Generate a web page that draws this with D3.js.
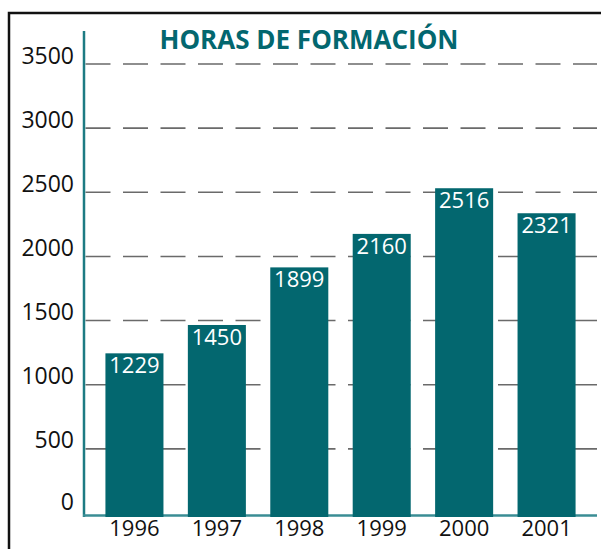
<!DOCTYPE html>
<html>
<head>
<meta charset="utf-8">
<script src="https://cdn.jsdelivr.net/npm/d3@7"></script>
<style>
  body { margin: 0; background: #fff; }
  svg { display: block; }
  text { font-family: "Open Sans", "Noto Sans", sans-serif; }
</style>
</head>
<body>
<svg id="chart" width="601" height="549"></svg>
<script>
// données du graphique
var years = ["1996", "1997", "1998", "1999", "2000", "2001"];
var hours = [1229, 1450, 1899, 2160, 2516, 2321];
var yTicks = [0, 500, 1000, 1500, 2000, 2500, 3000, 3500];
var title = "HORAS DE FORMACIÓN";

var svg = d3.select("#chart");
var teal = "#03676f";

// échelles
var xScale = d3.scaleBand().domain(years).range([84, 597]).paddingInner(0.296).paddingOuter(0.26);
var yScale = d3.scaleLinear().domain([0, 3500]).range([513, 64]);

// cadre noir (haut et gauche)
svg.append("path")
    .attr("d", "M9,549 V13 H601")
    .attr("fill", "none")
    .attr("stroke", "#111")
    .attr("stroke-width", 2.5);

// lignes de grille en pointillés
svg.append("g").selectAll("line")
    .data(yTicks.filter(d => d > 0))
    .enter()
    .append("line")
    .attr("x1", 85.5)
    .attr("x2", 597)
    .attr("y1", d => yScale(d))
    .attr("y2", d => yScale(d))
    .attr("stroke", "#6a6a6a")
    .attr("stroke-width", 1.6)
    .attr("stroke-dasharray", "25,12.5");

// axe des ordonnées : étiquettes seulement, via d3.axisLeft
var yAxis = svg.append("g")
    .attr("transform", "translate(74,0)")
    .call(d3.axisLeft(yScale).tickValues(yTicks).tickFormat(d3.format("d")).tickSize(0).tickPadding(0));
yAxis.select(".domain").remove();
yAxis.selectAll("text")
    .attr("dy", d => d === 0 ? "-0.1em" : "0")
    .attr("y", -1)
    .style("font-size", "23px")
    .style("font-family", "'Open Sans', sans-serif")
    .attr("fill", "#111");

// ligne verticale de l'axe
svg.append("line")
    .attr("x1", 84).attr("x2", 84)
    .attr("y1", 31).attr("y2", 517)
    .attr("stroke", "#1d7b83")
    .attr("stroke-width", 2.5);

// ligne de base
svg.append("line")
    .attr("x1", 83).attr("x2", 597)
    .attr("y1", 515.5).attr("y2", 515.5)
    .attr("stroke", "#3a8d94")
    .attr("stroke-width", 2.5);

// barres
svg.append("g").selectAll("rect")
    .data(hours)
    .enter()
    .append("rect")
    .attr("x", (d, i) => xScale(years[i]))
    .attr("width", xScale.bandwidth())
    .attr("y", d => yScale(d) - 2)
    .attr("height", d => 517 - yScale(d) + 2)
    .attr("fill", teal);

// valeurs dans les barres
svg.append("g").selectAll("text")
    .data(hours)
    .enter()
    .append("text")
    .attr("x", (d, i) => xScale(years[i]) + xScale.bandwidth() / 2)
    .attr("y", d => yScale(d) + 18)
    .attr("text-anchor", "middle")
    .attr("fill", "#fff")
    .style("font-size", "22px")
    .text(d => d);

// axe des abscisses : étiquettes
var xAxis = svg.append("g")
    .attr("transform", "translate(0,517)")
    .call(d3.axisBottom(xScale).tickSize(0).tickPadding(3));
xAxis.select(".domain").remove();
xAxis.selectAll("text")
    .style("font-size", "22px")
    .style("font-family", "'Open Sans', sans-serif")
    .attr("fill", "#111");

// titre
svg.append("text")
    .attr("x", 309)
    .attr("y", 49)
    .attr("text-anchor", "middle")
    .attr("fill", teal)
    .style("font-size", "26px")
    .style("font-weight", "bold")
    .attr("textLength", 299)
    .attr("lengthAdjust", "spacingAndGlyphs")
    .text(title);
</script>
</body>
</html>
